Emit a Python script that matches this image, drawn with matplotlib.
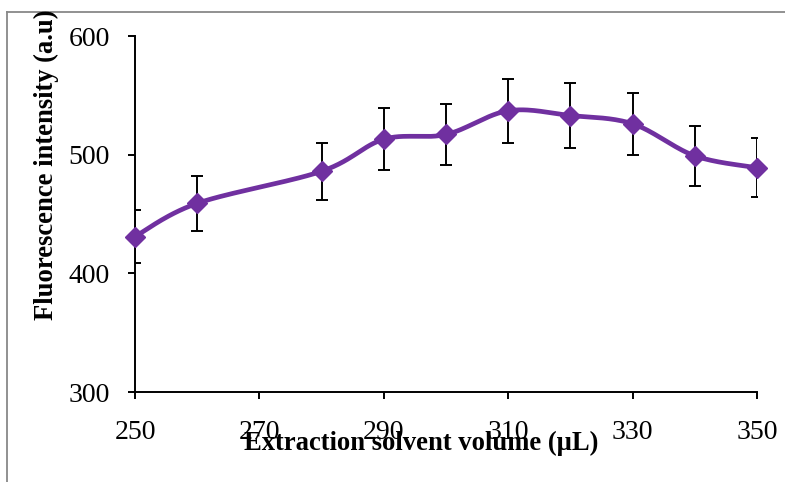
import numpy as np
import matplotlib.pyplot as plt
from matplotlib.lines import Line2D

# extraction solvent volume (uL) and fluorescence response
volume = [250, 260, 280, 290, 300, 310, 320, 330, 340, 350]
intensity = [431, 459, 486, 513, 517, 537, 533, 526, 499, 489]
error = [22, 23, 24, 26, 26, 27, 27, 26, 25, 25]

x_ticks = [250, 270, 290, 310, 330, 350]
y_ticks = [300, 400, 500, 600]

PURPLE = '#7030A0'
FONT = 'Liberation Serif'


def smooth_curve(xs, ys, n=30):
    # Catmull-Rom style bezier through every point (spreadsheet "smoothed line")
    xs = np.asarray(xs, float)
    ys = np.asarray(ys, float)
    px = np.concatenate([[xs[0]], xs, [xs[-1]]])
    py = np.concatenate([[ys[0]], ys, [ys[-1]]])
    out_x, out_y = [], []
    t = np.linspace(0, 1, n)
    for i in range(1, len(px) - 2):
        p0 = np.array([px[i], py[i]])
        p3 = np.array([px[i + 1], py[i + 1]])
        p1 = p0 + (np.array([px[i + 1], py[i + 1]]) - np.array([px[i - 1], py[i - 1]])) / 6
        p2 = p3 - (np.array([px[i + 2], py[i + 2]]) - np.array([px[i], py[i]])) / 6
        b = ((1 - t) ** 3)[:, None] * p0 + (3 * (1 - t) ** 2 * t)[:, None] * p1 \
            + (3 * (1 - t) * t ** 2)[:, None] * p2 + (t ** 3)[:, None] * p3
        out_x.extend(b[:, 0])
        out_y.extend(b[:, 1])
    return out_x, out_y


fig = plt.figure(figsize=(7.85, 4.82), dpi=100)
ax = fig.add_axes([135 / 785, 1 - 392 / 482, (757 - 135) / 785, (392 - 36) / 482])

cx, cy = smooth_curve(volume, intensity)
ax.plot(cx, cy, color=PURPLE, lw=3.4, solid_capstyle='round', zorder=3)
ax.errorbar(volume, intensity, yerr=error, fmt='none', ecolor='black',
            elinewidth=1.4, capsize=4.5, capthick=1.4, zorder=2)
ax.plot(volume, intensity, 'D', color=PURPLE, ms=10, zorder=4, clip_on=False)

ax.set_xlim(250, 350)
ax.set_ylim(300, 600)
ax.set_xticks(x_ticks)
ax.set_yticks(y_ticks)
for s in ['top', 'right']:
    ax.spines[s].set_visible(False)
for s in ['left', 'bottom']:
    ax.spines[s].set_linewidth(1.4)
ax.tick_params(axis='both', direction='out', length=5, width=1.4, labelsize=20)
ax.tick_params(axis='x', pad=15)
ax.tick_params(axis='y', pad=13)
for lab in ax.get_xticklabels() + ax.get_yticklabels():
    lab.set_fontfamily(FONT)

fig.text(421 / 785, 1 - 443 / 482, 'Extraction solvent volume (µL)', family=FONT,
         fontsize=19.2, fontweight='bold', ha='center', va='center')
fig.text(46 / 785, 1 - 165 / 482, 'Fluorescence intensity (a.u)', family=FONT,
         fontsize=19.2, fontweight='bold', ha='center', va='center', rotation=90)

# chart-area border, left and top edges
fig.add_artist(Line2D([7 / 785, 7 / 785], [0, 1 - 12 / 482], transform=fig.transFigure,
                      color='#888888', lw=1.3))
fig.add_artist(Line2D([7 / 785, 1], [1 - 12 / 482, 1 - 12 / 482], transform=fig.transFigure,
                      color='#888888', lw=1.3))

fig.savefig('out.png', dpi=100)
